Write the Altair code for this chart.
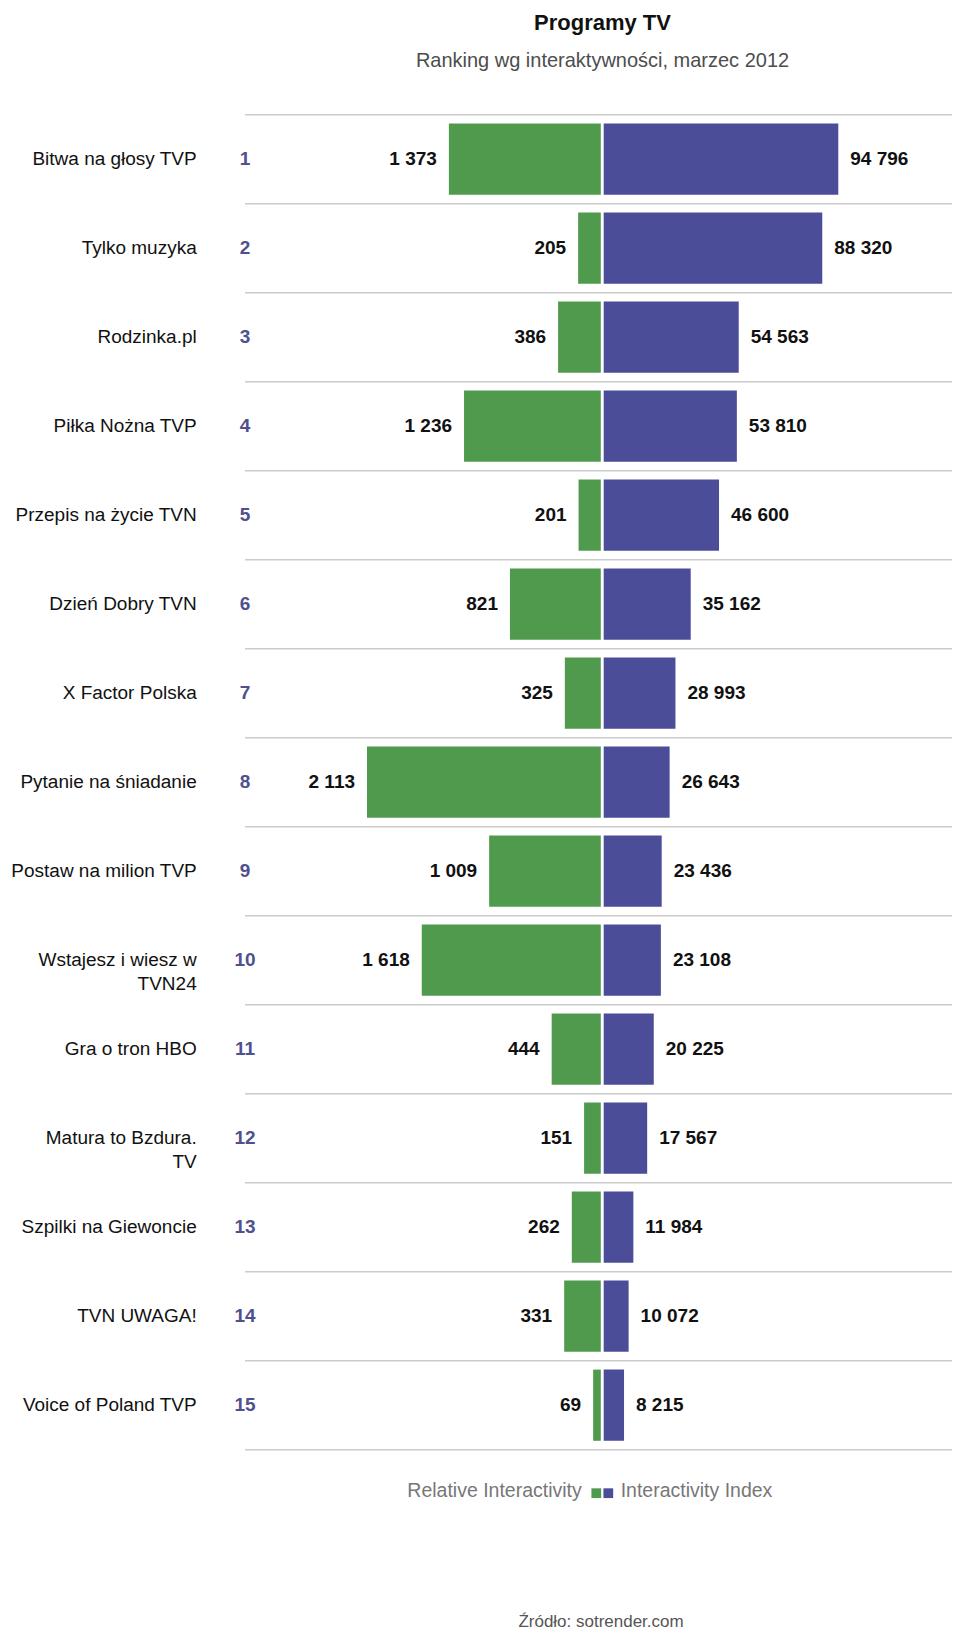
import altair as alt
import pandas as pd

# ---- data ----
chart_title = "Programy TV"
chart_subtitle = "Ranking wg interaktywności, marzec 2012"
names = [
    "Bitwa na głosy TVP", "Tylko muzyka", "Rodzinka.pl", "Piłka Nożna TVP",
    "Przepis na życie TVN", "Dzień Dobry TVN", "X Factor Polska",
    "Pytanie na śniadanie", "Postaw na milion TVP", "Wstajesz i wiesz w\nTVN24",
    "Gra o tron HBO", "Matura to Bzdura.\nTV", "Szpilki na Giewoncie",
    "TVN UWAGA!", "Voice of Poland TVP",
]
ranks = list(range(1, 16))
relative_interactivity = [1373, 205, 386, 1236, 201, 821, 325, 2113, 1009, 1618, 444, 151, 262, 331, 69]
interactivity_index = [94796, 88320, 54563, 53810, 46600, 35162, 28993, 26643, 23436, 23108, 20225, 17567, 11984, 10072, 8215]
legend_labels = ["Relative Interactivity", "Interactivity Index"]
source_note = "Źródło: sotrender.com"

# ---- style ----
GREEN = "#509a4e"
PURPLE = "#4c4d98"
RANK_COLOR = "#50508e"
FONT = "Liberation Sans"
W = 707
ROWS_H = 1335
H = 1518


def fmt(v):
    return f"{v:,}".replace(",", " ")


df = pd.DataFrame({
    "name": names,
    "rank": ranks,
    "rel": relative_interactivity,
    "idx": interactivity_index,
    "rel_label": [fmt(v) for v in relative_interactivity],
    "idx_label": [fmt(v) for v in interactivity_index],
})

n = len(names)
y_scale = alt.Scale(domain=[0.5, n + 0.5], range=[0, ROWS_H], nice=False, zero=False)
green_scale = alt.Scale(domain=[0, max(relative_interactivity)], range=[355.8, 122], nice=False, zero=False)
purple_scale = alt.Scale(domain=[0, max(interactivity_index)], range=[358.7, 593.3], nice=False, zero=False)

base = alt.Chart(df).transform_calculate(
    y_top="datum.rank - 0.4", y_bot="datum.rank + 0.4"
)

grid_df = pd.DataFrame({"b": [k + 0.5 for k in range(n + 1)]})
grid = alt.Chart(grid_df).mark_rule(color="#cccccc", strokeWidth=1.5).encode(
    y=alt.Y("b:Q", scale=y_scale, axis=None),
    x=alt.value(0),
    x2=alt.value(W),
)

green_bars = base.mark_bar(color=GREEN).encode(
    x=alt.X("rel:Q", scale=green_scale, axis=None),
    x2=alt.datum(0),
    y=alt.Y("y_top:Q", scale=y_scale, axis=None),
    y2="y_bot:Q",
)
purple_bars = base.mark_bar(color=PURPLE).encode(
    x=alt.X("idx:Q", scale=purple_scale, axis=None),
    x2=alt.datum(0),
    y=alt.Y("y_top:Q", scale=y_scale, axis=None),
    y2="y_bot:Q",
)
green_text = base.mark_text(align="right", baseline="middle", dx=-12, font=FONT,
                            fontSize=19, fontWeight="bold", color="#111111").encode(
    x=alt.X("rel:Q", scale=green_scale, axis=None),
    y=alt.Y("rank:Q", scale=y_scale, axis=None),
    text="rel_label:N",
)
purple_text = base.mark_text(align="left", baseline="middle", dx=12, font=FONT,
                             fontSize=19, fontWeight="bold", color="#111111").encode(
    x=alt.X("idx:Q", scale=purple_scale, axis=None),
    y=alt.Y("rank:Q", scale=y_scale, axis=None),
    text="idx_label:N",
)
name_text = base.mark_text(align="right", baseline="middle", font=FONT, fontSize=19,
                           color="#111111", lineBreak="\n", lineHeight=24).encode(
    x=alt.value(-48.3),
    y=alt.Y("rank:Q", scale=y_scale, axis=None),
    text="name:N",
)
rank_text = base.mark_text(align="center", baseline="middle", font=FONT, fontSize=19,
                           fontWeight="bold", color=RANK_COLOR).encode(
    x=alt.value(0),
    y=alt.Y("rank:Q", scale=y_scale, axis=None),
    text="rank:N",
)

leg_left = alt.Chart(pd.DataFrame({"t": [legend_labels[0]]})).mark_text(
    align="right", baseline="middle", font=FONT, fontSize=19.5, color="#777777"
).encode(x=alt.value(336.7), y=alt.value(1376.5), text="t:N")
leg_right = alt.Chart(pd.DataFrame({"t": [legend_labels[1]]})).mark_text(
    align="left", baseline="middle", font=FONT, fontSize=19.5, color="#777777"
).encode(x=alt.value(375.7), y=alt.value(1376.5), text="t:N")
leg_green = alt.Chart(pd.DataFrame({"t": [legend_labels[0]]})).mark_square(
    color=GREEN, opacity=1, size=95
).encode(x=alt.value(351.3), y=alt.value(1378.5))
leg_purple = alt.Chart(pd.DataFrame({"t": [legend_labels[1]]})).mark_square(
    color=PURPLE, opacity=1, size=95
).encode(x=alt.value(363.3), y=alt.value(1378.5))

source_text = alt.Chart(pd.DataFrame({"t": [source_note]})).mark_text(
    align="center", baseline="alphabetic", font=FONT, fontSize=17, color="#555555"
).encode(x=alt.value(356), y=alt.value(1512), text="t:N")

chart = alt.layer(
    grid, green_bars, purple_bars, green_text, purple_text, name_text, rank_text,
    leg_left, leg_right, leg_green, leg_purple, source_text,
).resolve_scale(x="independent").properties(
    width=W,
    height=H,
    background="white",
    title=alt.TitleParams(
        text=chart_title, subtitle=chart_subtitle, anchor="middle", frame="group",
        font=FONT, fontSize=22, fontWeight="bold", color="#111111",
        subtitleFont=FONT, subtitleFontSize=20, subtitleColor="#4d4d4d",
        subtitlePadding=16, offset=41.6, dx=4,
    ),
    autosize=alt.AutoSizeParams(type="none"),
    padding={"left": 237, "top": 106.7, "right": 0, "bottom": 0},
).configure_view(stroke="transparent", strokeWidth=0)

chart.save("out.html", embed_options={"renderer": "svg", "actions": False})
